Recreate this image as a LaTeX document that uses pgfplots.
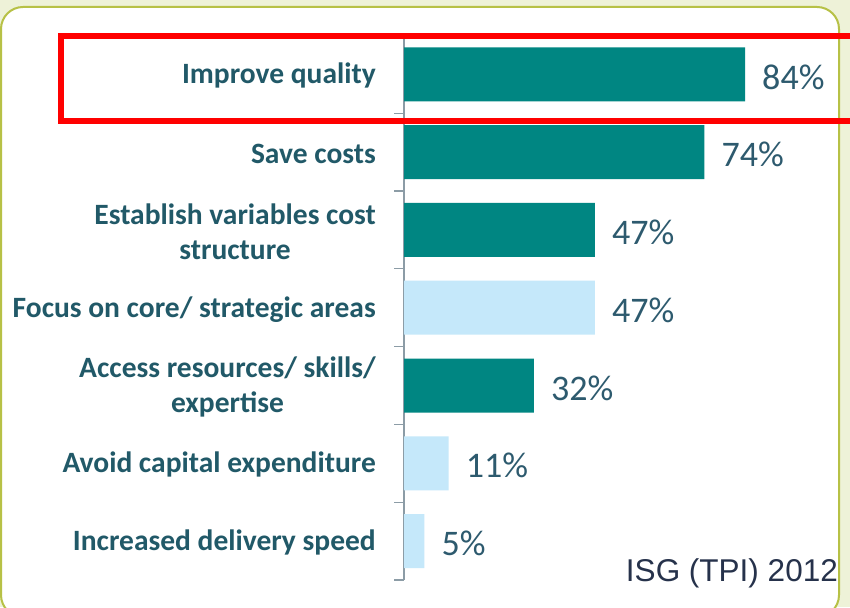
\documentclass[border=0pt]{standalone}
\usepackage{pgfplots}
\pgfplotsset{compat=1.18}
\usepackage{fontspec}
\setmainfont{Carlito}
\newfontfamily\arialfont{Liberation Sans}
\definecolor{tealbar}{RGB}{0,134,130}
\definecolor{lightbar}{RGB}{197,232,250}
\definecolor{labeltxt}{RGB}{33,89,104}
\definecolor{valtxt}{RGB}{45,90,110}
\definecolor{cream}{RGB}{238,242,216}
\definecolor{olive}{RGB}{183,193,70}
\definecolor{axisgray}{RGB}{140,156,166}
\definecolor{isgtxt}{RGB}{38,50,75}
\begin{document}
\begin{tikzpicture}[x=1pt,y=1pt]
\useasboundingbox (0,0) rectangle (850,607);
\clip (0,0) rectangle (850,607);
\fill[cream] (0,0) rectangle (850,607);
\draw[olive, line width=2, fill=white, rounded corners=22] (1,-10) rectangle (839,600);
\begin{axis}[
  at={(404pt,27pt)}, anchor=south west,
  scale only axis, width=406pt, height=544.5pt,
  xmin=0, xmax=100, ymin=-0.5, ymax=6.5,
  enlargelimits=false,
  axis x line=none, axis y line*=left,
  y axis line style={axisgray, line width=1.3pt, -},
  xbar, bar width=54pt, bar shift=0pt,
  ytick={0,...,6},
  yticklabels={Increased delivery speed, Avoid capital expenditure, {Access resources/ skills/\\expertise}, Focus on core/ strategic areas, {Establish variables cost\\structure}, Save costs, Improve quality},
  yticklabel style={font=\fontsize{29.5}{35}\selectfont\bfseries, text=labeltxt, align=center, inner sep=0pt, xshift=-28pt, yshift=-1.5pt, anchor=east},
  major tick length=0pt,
  extra y ticks={-0.5,0.5,...,6.5},
  extra y tick labels={},
  extra y tick style={major tick length=10pt, tick align=outside, tick style={axisgray, line width=1.2pt}},
  nodes near coords={\pgfmathprintnumber{\pgfplotspointmeta}\%},
  nodes near coords style={font=\fontsize{36}{40}\selectfont, text=valtxt, anchor=west, inner sep=0pt, xshift=17pt, yshift=-2.5pt},
  /pgf/number format/assume math mode=true,
  clip=false,
]
\addplot[fill=tealbar, draw=none] coordinates {(84,6) (74,5) (47,4) (32,2)};
\addplot[fill=lightbar, draw=none] coordinates {(47,3) (11,1) (5,0)};
\end{axis}
\draw[red, line width=6] (61,571) rectangle (870,486);
\node[anchor=base east, inner sep=0pt, font=\arialfont\fontsize{31.5}{36}\selectfont, text=isgtxt] at (838,26) {ISG (TPI) 2012};
\end{tikzpicture}
\end{document}
